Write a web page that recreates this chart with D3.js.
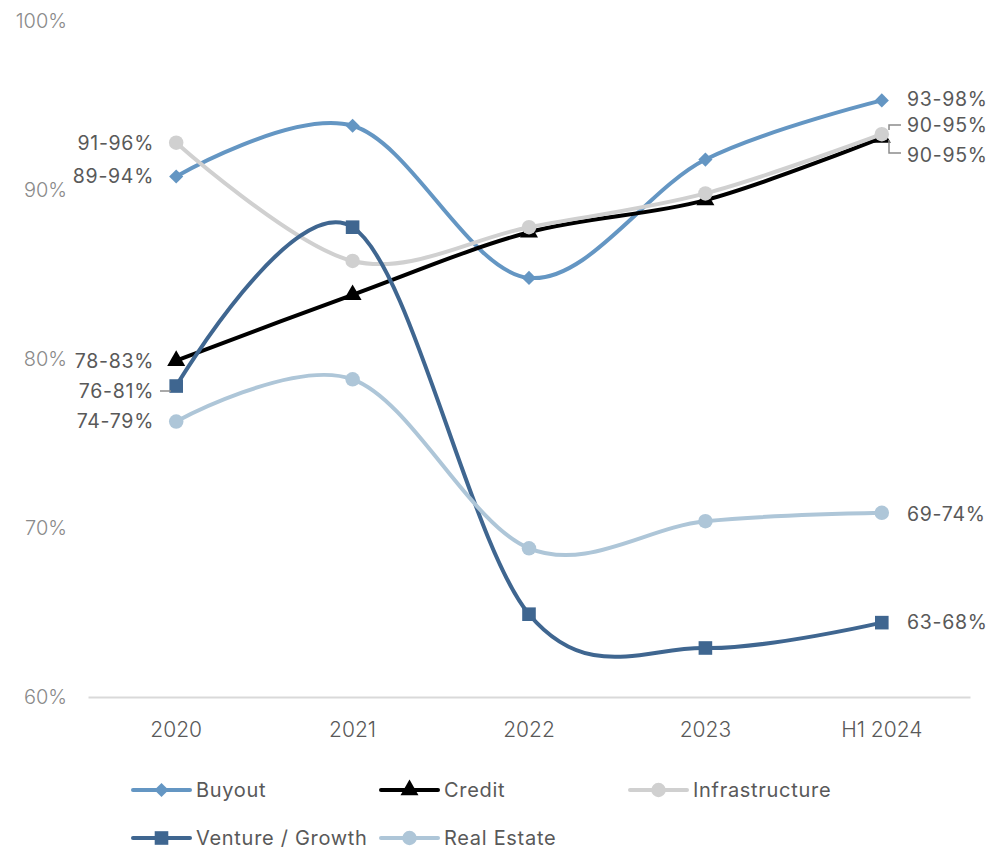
<!DOCTYPE html>
<html>
<head>
<meta charset="utf-8">
<script src="https://cdn.jsdelivr.net/npm/d3@7"></script>
<style>
  html, body { margin: 0; padding: 0; background: #fff; }
  svg { display: block; }
</style>
</head>
<body>
<svg id="chart" width="987" height="851"></svg>
<script>
// Categories and tick labels
const periods = ["2020", "2021", "2022", "2023", "H1 2024"];
const yTicks = [60, 70, 80, 90, 100];

// Series values (midpoint of each range, %)
const buyout         = [90.8, 93.8, 84.8, 91.8, 95.3];
const credit         = [79.9, 83.8, 87.5, 89.4, 93.1];
const infrastructure = [92.8, 85.8, 87.8, 89.8, 93.3];
const ventureGrowth  = [78.4, 87.8, 64.9, 62.9, 64.4];
const realEstate     = [76.3, 78.8, 68.8, 70.4, 70.9];

// Range labels shown at the first and last points
const startLabels = ["89-94%", "78-83%", "91-96%", "76-81%", "74-79%"];
const endLabels   = ["93-98%", "90-95%", "90-95%", "63-68%", "69-74%"];

const seriesNames = ["Buyout", "Credit", "Infrastructure", "Venture / Growth", "Real Estate"];
const seriesValues = [buyout, credit, infrastructure, ventureGrowth, realEstate];
const seriesColors = ["#6496c3", "#000000", "#d0d0d0", "#3f6690", "#aec6d8"];
const seriesMarkers = [d3.symbolSquare, d3.symbolTriangle, d3.symbolCircle, d3.symbolSquare, d3.symbolCircle];
const markerSizes = [100, 140, 165, 185, 165];
const markerRotation = [45, 0, 0, 0, 0];

const series = seriesNames.map((name, i) => ({
  name, values: seriesValues[i], color: seriesColors[i],
  marker: seriesMarkers[i], size: markerSizes[i], rot: markerRotation[i],
  startLabel: startLabels[i], endLabel: endLabels[i]
}));

const svg = d3.select("#chart");
const labelFont = "Inter, 'Noto Sans', sans-serif";
const axisFont = "Inter, 'Noto Sans', sans-serif";

const x = d3.scaleBand().domain(periods).range([88, 970]).paddingInner(0).paddingOuter(0);
const xc = d => x(d) + x.bandwidth() / 2;
const y = d3.scaleLinear().domain([60, 100]).range([697, 21]);

// Y tick labels (no gridlines)
svg.append("g").selectAll("text").data(yTicks).join("text")
  .attr("x", 67).attr("y", d => y(d)).attr("dy", "0.35em")
  .attr("text-anchor", "end")
  .attr("font-family", axisFont).attr("font-size", 20).attr("font-weight", 300)
  .attr("fill", "#8a8a8a")
  .text(d => d + "%");

// X axis baseline and category labels
const xAxis = d3.axisBottom(x).tickSize(0).tickPadding(25);
const gx = svg.append("g").attr("transform", `translate(0,${y(60)})`).call(xAxis);
gx.select(".domain").attr("stroke", "#d9d9d9").attr("stroke-width", 2);
gx.selectAll("text")
  .attr("font-family", axisFont).attr("font-size", 21).attr("font-weight", 300)
  .attr("fill", "#595959");

// Smoothed lines
const line = d3.line()
  .x((d, i) => xc(periods[i]))
  .y(d => y(d))
  .curve(d3.curveCardinal.tension(0));

const gSeries = svg.append("g");
series.forEach(s => {
  const g = gSeries.append("g");
  g.append("path").attr("d", line(s.values))
    .attr("fill", "none").attr("stroke", s.color)
    .attr("stroke-width", 4).attr("stroke-linecap", "round");
  g.selectAll("path.m").data(s.values).join("path").attr("class", "m")
    .attr("transform", (d, i) => `translate(${xc(periods[i])},${y(d)}) rotate(${s.rot})`)
    .attr("d", d3.symbol().type(s.marker).size(s.size))
    .attr("fill", s.color);
});

// Data labels: ranges at first and last period
const startOffsets = [176, 361, 143, 391, 421];
const endOffsets   = [99, 155, 125, 622, 514];
const gl = svg.append("g")
  .attr("font-family", labelFont).attr("font-size", 19.5)
  .attr("letter-spacing", "0.7px").attr("fill", "#595959");
series.forEach((s, i) => {
  gl.append("text").attr("x", 154).attr("y", startOffsets[i]).attr("dy", "0.35em")
    .attr("text-anchor", "end").text(s.startLabel);
  gl.append("text").attr("x", 907).attr("y", endOffsets[i]).attr("dy", "0.35em")
    .attr("text-anchor", "start").text(s.endLabel);
});

// Leader lines for labels placed away from their points
const leader = d3.line();
const leaders = [
  [[160, 391], [171, 391]],
  [[889, 130], [889, 125], [901, 125]],
  [[889, 140], [889, 153], [901, 153]]
];
svg.append("g").selectAll("path").data(leaders).join("path")
  .attr("d", d => leader(d))
  .attr("fill", "none").attr("stroke", "#8c8c8c").attr("stroke-width", 1.5);

// Legend
const legendPos = [[133, 790], [381, 790], [630, 790], [133, 838], [381, 838]];
const gLeg = svg.append("g");
series.forEach((s, i) => {
  const [lx, ly] = legendPos[i];
  const g = gLeg.append("g").attr("transform", `translate(${lx},${ly})`);
  g.append("line").attr("x1", 0).attr("x2", 57).attr("y1", 0).attr("y2", 0)
    .attr("stroke", s.color).attr("stroke-width", 4).attr("stroke-linecap", "round");
  g.append("path").attr("transform", `translate(28.5,0) rotate(${s.rot})`)
    .attr("d", d3.symbol().type(s.marker).size(s.size)).attr("fill", s.color);
  g.append("text").attr("x", 63).attr("y", 0).attr("dy", "0.35em")
    .attr("font-family", labelFont).attr("font-size", 20)
    .attr("letter-spacing", "0.7px").attr("fill", "#595959")
    .text(s.name);
});
</script>
</body>
</html>
